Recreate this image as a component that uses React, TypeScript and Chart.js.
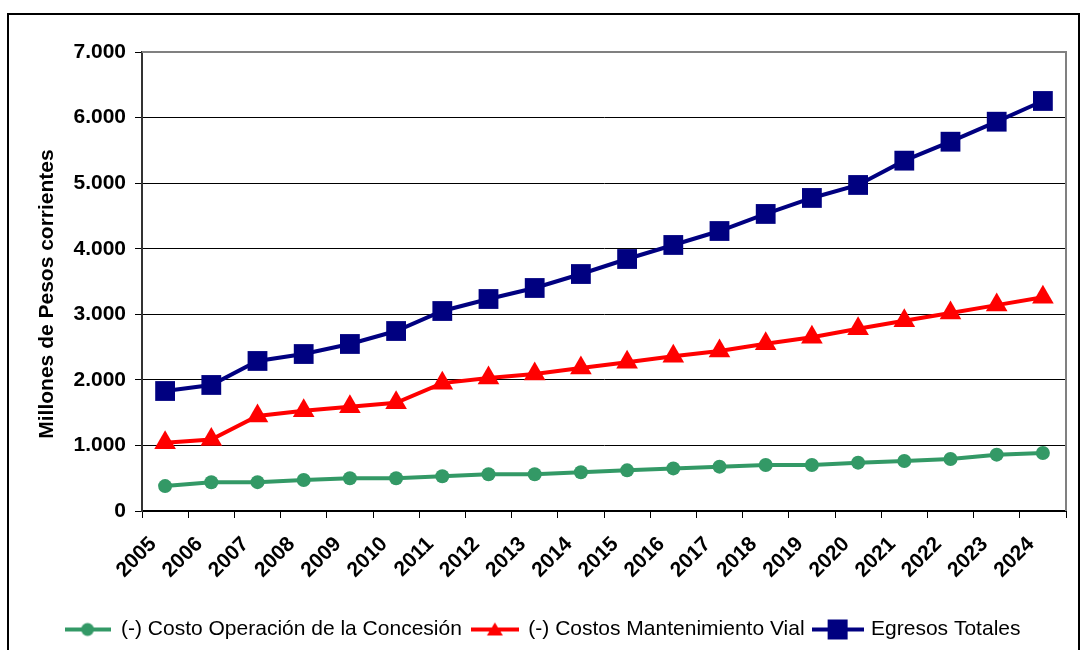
import { useEffect, useRef } from 'react';
import { Chart, registerables } from 'chart.js';

Chart.register(...registerables);

const years = ['2005', '2006', '2007', '2008', '2009', '2010', '2011', '2012', '2013', '2014', '2015', '2016', '2017', '2018', '2019', '2020', '2021', '2022', '2023', '2024'];
const costoOperacion = [380, 438, 440, 473, 499, 499, 529, 560, 560, 590, 620, 650, 676, 702, 702, 737, 763, 793, 859, 885];
const costosMantenimiento = [1040, 1090, 1450, 1530, 1590, 1650, 1950, 2030, 2090, 2180, 2270, 2360, 2440, 2550, 2650, 2780, 2900, 3020, 3140, 3260];
const egresosTotales = [1830, 1922, 2288, 2394, 2547, 2745, 3050, 3233, 3401, 3614, 3843, 4057, 4270, 4530, 4774, 4972, 5343, 5632, 5937, 6253];
const yTickLabels = ['0', '1.000', '2.000', '3.000', '4.000', '5.000', '6.000', '7.000'];
const seriesNames = ['(-) Costo Operación de la Concesión', '(-) Costos Mantenimiento Vial', 'Egresos Totales'];
const yTitle = 'Millones de Pesos corrientes';

const FONT = '"Liberation Sans", Arial, sans-serif';
const GREEN = '#339966';
const RED = '#FF0000';
const NAVY = '#000080';

function legendIcon(color: string, kind: string, w: number): HTMLCanvasElement {
  const c = document.createElement('canvas');
  c.width = w;
  c.height = 22;
  const ctx = c.getContext('2d')!;
  ctx.strokeStyle = color;
  ctx.fillStyle = color;
  ctx.lineWidth = 4;
  ctx.beginPath();
  ctx.moveTo(0, 11);
  ctx.lineTo(w, 11);
  ctx.stroke();
  const cx = w / 2;
  ctx.beginPath();
  if (kind === 'circle') {
    ctx.arc(cx, 11, 6.5, 0, Math.PI * 2);
  } else if (kind === 'triangle') {
    ctx.moveTo(cx, 4);
    ctx.lineTo(cx + 8, 17);
    ctx.lineTo(cx - 8, 17);
    ctx.closePath();
  } else {
    ctx.rect(cx - 10, 1, 20, 20);
  }
  ctx.fill();
  return c;
}

const framePlugin = {
  id: 'framePlugin',
  beforeDraw(chart: any) {
    const ctx = chart.ctx;
    ctx.save();
    ctx.fillStyle = '#fff';
    ctx.fillRect(0, 0, chart.width, chart.height);
    ctx.strokeStyle = '#000';
    ctx.lineWidth = 2;
    ctx.beginPath();
    ctx.moveTo(8, 700);
    ctx.lineTo(8, 14);
    ctx.lineTo(1079, 14);
    ctx.lineTo(1079, 700);
    ctx.stroke();
    ctx.restore();
  },
  beforeDatasetsDraw(chart: any) {
    const { ctx, chartArea } = chart;
    ctx.save();
    ctx.strokeStyle = '#808080';
    ctx.lineWidth = 2;
    ctx.beginPath();
    ctx.moveTo(chartArea.left, chartArea.top);
    ctx.lineTo(chartArea.right, chartArea.top);
    ctx.lineTo(chartArea.right, chartArea.bottom);
    ctx.stroke();
    ctx.restore();
  },
  afterDraw(chart: any) {
    const ctx = chart.ctx;
    ctx.save();
    ctx.translate(47, 294);
    ctx.rotate(-Math.PI / 2);
    ctx.font = `bold 21px ${FONT}`;
    ctx.fillStyle = '#000';
    ctx.textAlign = 'center';
    ctx.textBaseline = 'middle';
    ctx.fillText(yTitle, 0, 0);
    ctx.restore();
  },
};

export default function App() {
  const ref = useRef<HTMLCanvasElement | null>(null);

  useEffect(() => {
    document.body.style.margin = '0';
    const icons = [legendIcon(GREEN, 'circle', 46), legendIcon(RED, 'triangle', 48), legendIcon(NAVY, 'rect', 52)];
    const chart = new Chart(ref.current!, {
      type: 'line',
      data: {
        labels: years,
        datasets: [
          {
            label: seriesNames[0],
            data: costoOperacion,
            borderColor: GREEN,
            backgroundColor: GREEN,
            borderWidth: 4,
            pointStyle: 'circle',
            pointRadius: 7,
            pointBorderWidth: 0,
            tension: 0,
          },
          {
            label: seriesNames[1],
            data: costosMantenimiento,
            borderColor: RED,
            backgroundColor: RED,
            borderWidth: 4,
            pointStyle: 'triangle',
            pointRadius: 12.5,
            pointBorderWidth: 0,
            tension: 0,
          },
          {
            label: seriesNames[2],
            data: egresosTotales,
            borderColor: NAVY,
            backgroundColor: NAVY,
            borderWidth: 4,
            pointStyle: 'rect',
            pointRadius: 14,
            pointBorderWidth: 0,
            tension: 0,
          },
        ],
      },
      options: {
        responsive: false,
        animation: false,
        devicePixelRatio: 1,
        clip: false as any,
        layout: { padding: { top: 52, right: 19, left: 19, bottom: 0 } },
        plugins: {
          tooltip: { enabled: false },
          legend: {
            position: 'bottom',
            labels: {
              usePointStyle: true,
              pointStyleWidth: 46,
              padding: 10,
              color: '#000',
              font: { family: FONT, size: 21 },
              generateLabels: (c: any) => {
                const items = Chart.defaults.plugins.legend.labels.generateLabels(c);
                return items.map((it: any, i: number) => ({ ...it, pointStyle: icons[i], rotation: 0 }));
              },
            },
          },
        },
        scales: {
          x: {
            type: 'category',
            offset: true,
            grid: {
              display: true,
              drawOnChartArea: false,
              drawTicks: true,
              tickLength: 7,
              offset: true,
              color: '#000',
              lineWidth: 1,
            },
            border: { display: true, color: '#000', width: 2 },
            ticks: {
              autoSkip: false,
              minRotation: 45,
              maxRotation: 45,
              padding: 14,
              labelOffset: -12,
              color: '#000',
              font: { family: FONT, size: 21, weight: 'bold' },
            },
            afterFit: (s: any) => {
              s.height = 98;
            },
          },
          y: {
            min: 0,
            max: 7000,
            ticks: {
              stepSize: 1000,
              padding: 9,
              color: '#000',
              font: { family: FONT, size: 21, weight: 'bold' },
              callback: (_v: any, i: number) => yTickLabels[i],
            },
            grid: {
              color: (ctx: any) => (ctx.tick && ctx.tick.value === 7000 ? '#808080' : '#000'),
              tickColor: '#000',
              tickLength: 7,
              lineWidth: 1,
            },
            border: { display: true, color: '#333', width: 2 },
            afterFit: (s: any) => {
              s.width = 123;
            },
          },
        },
      } as any,
      plugins: [framePlugin],
    });
    return () => chart.destroy();
  }, []);

  return <canvas ref={ref} width={1085} height={650} style={{ display: 'block' }} />;
}
